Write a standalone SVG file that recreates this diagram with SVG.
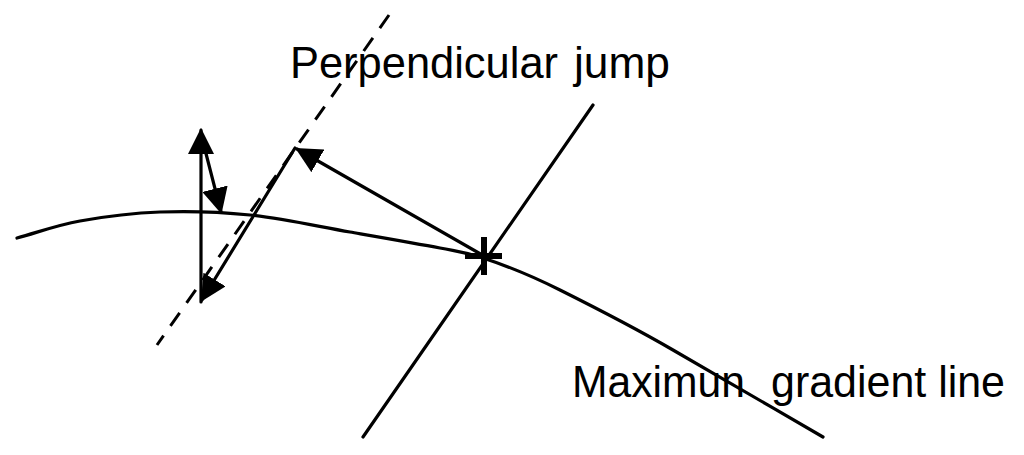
<svg xmlns="http://www.w3.org/2000/svg" width="1024" height="455" viewBox="0 0 1024 455">
<style>
.ln{stroke:#000;stroke-width:3.2;fill:none;stroke-linecap:round}
.dash{stroke:#000;stroke-width:3;fill:none;stroke-dasharray:16 12}
.lbl{font-family:"Liberation Sans",Arial,sans-serif;font-size:44px;fill:#000}
</style>
<defs>
<marker id="ah" markerUnits="userSpaceOnUse" viewBox="0 0 26 26" markerWidth="26" markerHeight="26" refX="24" refY="13" orient="auto">
<path d="M0,0 L26,13 L0,26 z" fill="#000"/>
</marker>
</defs>
<rect width="1024" height="455" fill="#fff"/>
<g id="curve">
<path class="ln" d="M17,238 C38,232.3 56.2,225.3 80,221 C103.8,216.7 131.7,213 160,212 C188.3,211 218.3,211.7 250,215 C281.7,218.3 318.3,226.5 350,232 C381.7,237.5 417.8,243.7 440,248 C462.2,252.3 465,252 483,258 C503,264.5 528,274 560,290 C592,306 630,325 673,350 C716.8,375.3 773,408 823,437"/>
</g>
<g id="dashed-line">
<line class="dash" x1="389" y1="15" x2="157" y2="345"/>
</g>
<g id="perpendicular-line">
<line class="ln" x1="593" y1="105" x2="363" y2="437"/>
</g>
<g id="point">
<rect x="465" y="253" width="37" height="6" fill="#000"/>
<rect x="481" y="237" width="6" height="38" fill="#000"/>
</g>
<g id="connectors">
<line class="ln" x1="484" y1="256" x2="297" y2="149" marker-end="url(#ah)"/>
<line class="ln" x1="295" y1="148" x2="202" y2="300" marker-end="url(#ah)"/>
<line class="ln" x1="201" y1="302" x2="201" y2="130" marker-end="url(#ah)"/>
<line class="ln" x1="202" y1="138" x2="221" y2="212" marker-end="url(#ah)"/>
</g>
<g id="labels">
<text class="lbl" y="78"><tspan x="290" textLength="268" lengthAdjust="spacingAndGlyphs">Perpendicular</tspan> <tspan x="574" textLength="96" lengthAdjust="spacingAndGlyphs">jump</tspan></text>
<text class="lbl" y="397"><tspan x="572" textLength="173" lengthAdjust="spacingAndGlyphs">Maximun</tspan> <tspan x="771" textLength="234" lengthAdjust="spacingAndGlyphs">gradient line</tspan></text>
</g>
</svg>
